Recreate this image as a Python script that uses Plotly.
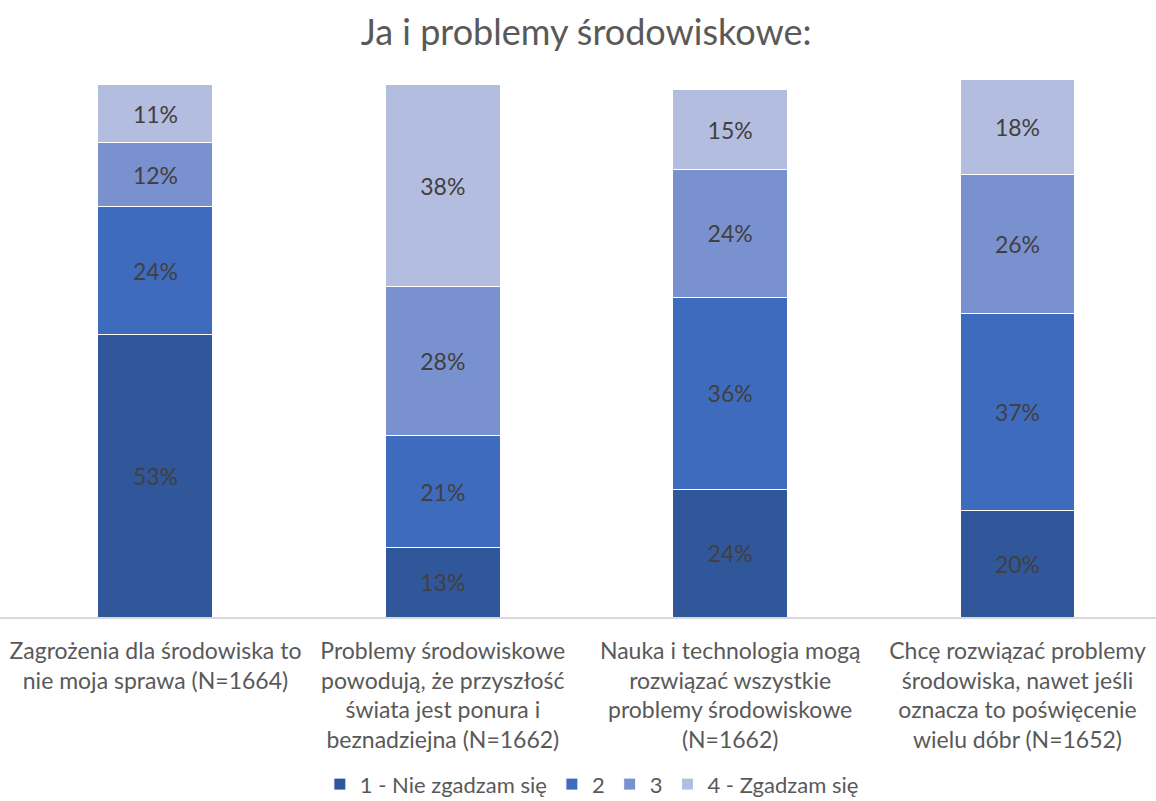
import plotly.graph_objects as go

categories = [
    "Zagrożenia dla środowiska to<br>nie moja sprawa (N=1664)",
    "Problemy środowiskowe<br>powodują, że przyszłość<br>świata jest ponura i<br>beznadziejna (N=1662)",
    "Nauka i technologia mogą<br>rozwiązać wszystkie<br>problemy środowiskowe<br>(N=1662)",
    "Chcę rozwiązać problemy<br>środowiska, nawet jeśli<br>oznacza to poświęcenie<br>wielu dóbr (N=1652)",
]

series_names = ["1 - Nie zgadzam się", "2", "3", "4 - Zgadzam się"]
s1 = [53, 13, 24, 20]
s2 = [24, 21, 36, 37]
s3 = [12, 28, 24, 26]
s4 = [11, 38, 15, 18]
colors = ["#30579A", "#3F6BBE", "#7A91CF", "#B3BDDF"]

FONT = "Lato, sans-serif"
TEXT_GREY = "#595959"

fig = go.Figure()
for name, vals, col in zip(series_names, [s1, s2, s3, s4], colors):
    fig.add_trace(go.Bar(
        name=name,
        x=categories,
        y=vals,
        marker=dict(color=col, line=dict(color="white", width=1)),
        text=[f"{v}%" for v in vals],
        textposition="inside",
        insidetextanchor="middle",
        textfont=dict(family=FONT, size=23, color="#404040"),
        width=0.40,
    ))

fig.update_layout(
    barmode="stack",
    width=1156,
    height=801,
    margin=dict(l=0, r=0, t=79, b=184, autoexpand=False),
    paper_bgcolor="white",
    plot_bgcolor="white",
    title=dict(
        text="Ja i problemy środowiskowe:",
        x=0.507, xanchor="center",
        y=0.96, yanchor="middle",
        font=dict(family=FONT, size=36, color=TEXT_GREY),
    ),
    font=dict(family=FONT, color=TEXT_GREY),
    legend=dict(
        orientation="h",
        x=0.512, xanchor="center",
        y=-0.311, yanchor="middle",
        font=dict(family=FONT, size=22, color=TEXT_GREY),
        traceorder="normal",
        itemwidth=30,
    ),
    xaxis=dict(
        range=[-0.541, 3.482],
        automargin=False,
        showline=True, linecolor="#D9D9D9", linewidth=2,
        showgrid=False, ticks="",
        ticklabelstandoff=12,
        tickfont=dict(family=FONT, size=23, color=TEXT_GREY),
    ),
    yaxis=dict(
        range=[0, 101],
        visible=False,
        showgrid=False,
    ),
    uniformtext=dict(mode=False),
)

fig.write_html("out.html")
